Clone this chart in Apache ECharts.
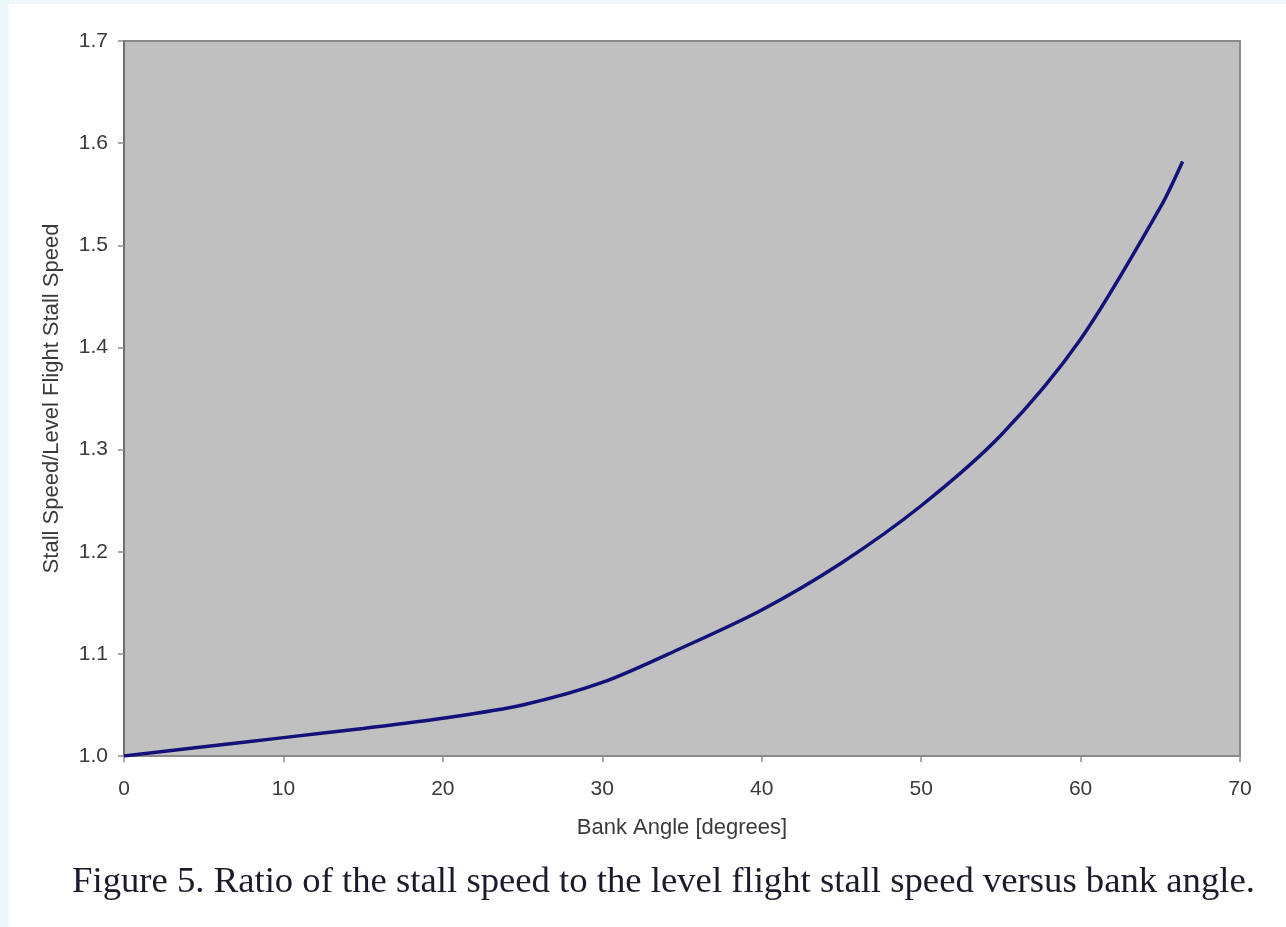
<!DOCTYPE html>
<html>
<head>
<meta charset="utf-8">
<script src="https://cdn.jsdelivr.net/npm/echarts@6/dist/echarts.min.js"></script>
<style>
  html, body { margin: 0; padding: 0; background: #eef8fb; width: 1286px; height: 927px; overflow: hidden; }
  #chart { position: absolute; left: 9px; top: 4px; width: 1277px; height: 923px; background: #ffffff; }
</style>
</head>
<body>
<div id="chart"></div>
<script>
// Bank angle [degrees]
const bankAngle = [0, 5, 10, 15, 20, 25, 30, 35, 40, 45, 50, 55, 60, 65, 66.4];
// Stall speed / level flight stall speed
const speedRatio = [1.000, 1.009, 1.018, 1.027, 1.037, 1.050, 1.072, 1.106, 1.143, 1.189, 1.245, 1.314, 1.408, 1.537, 1.582];
const xTicks = [0, 10, 20, 30, 40, 50, 60, 70];
const yTicks = [1.0, 1.1, 1.2, 1.3, 1.4, 1.5, 1.6, 1.7];
const xName = 'Bank Angle [degrees]';
const yName = 'Stall Speed/Level Flight Stall Speed';
const caption = 'Figure 5. Ratio of the stall speed to the level flight stall speed versus bank angle.';

const chart = echarts.init(document.getElementById('chart'));
const points = bankAngle.map((x, i) => [x, speedRatio[i]]);
const labelFont = { color: '#3a3a3a', fontFamily: 'Liberation Sans, Arial, sans-serif', fontSize: 21 };

chart.setOption({
  animation: false,
  backgroundColor: '#ffffff',
  grid: {
    left: 115, right: 46, top: 37, bottom: 171,
    show: true, backgroundColor: '#c0c0c0', borderColor: '#8a8a8a', borderWidth: 2
  },
  xAxis: {
    type: 'value', min: xTicks[0], max: xTicks[xTicks.length - 1], interval: 10,
    name: xName, nameLocation: 'middle', nameGap: 61,
    nameTextStyle: Object.assign({}, labelFont, { fontSize: 22 }),
    axisLine: { show: true, lineStyle: { color: '#8a8a8a', width: 2 } },
    axisTick: { show: true, length: 6, lineStyle: { color: '#8a8a8a', width: 1.5 } },
    axisLabel: Object.assign({ margin: 23 }, labelFont),
    splitLine: { show: false }
  },
  yAxis: {
    type: 'value', min: yTicks[0], max: yTicks[yTicks.length - 1], interval: 0.1,
    name: yName, nameLocation: 'middle', nameGap: 61,
    nameTextStyle: Object.assign({}, labelFont, { fontSize: 22 }),
    axisLine: { show: true, lineStyle: { color: '#707070', width: 2 } },
    axisTick: { show: true, length: 6, lineStyle: { color: '#8a8a8a', width: 1.5 } },
    axisLabel: Object.assign({ margin: 16, formatter: v => v.toFixed(1) }, labelFont),
    splitLine: { show: false }
  },
  series: [{
    type: 'line',
    data: points,
    smooth: 0.3,
    showSymbol: false,
    lineStyle: { color: '#12127a', width: 3.5 }
  }],
  graphic: [{
    type: 'text',
    x: 654.5,
    y: 878,
    style: {
      text: caption,
      fill: '#1b1b2b',
      font: '36.7px "Liberation Serif", "Times New Roman", serif',
      textAlign: 'center',
      textVerticalAlign: 'middle'
    }
  }]
});
</script>
</body>
</html>
